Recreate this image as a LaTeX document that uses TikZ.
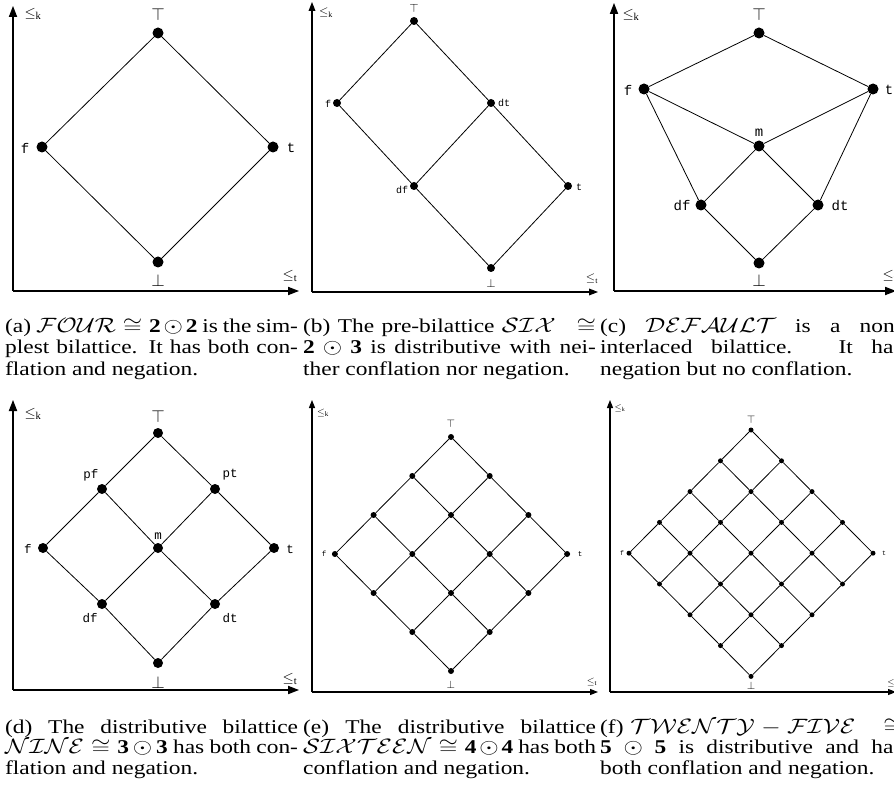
\documentclass[tikz,border=0pt]{standalone}
\usepackage{amsmath,amssymb}
\usepackage{graphicx}
\usepackage{fontspec}
\setmainfont{Liberation Serif}
\setmonofont{Liberation Mono}
\usetikzlibrary{arrows.meta}
% caption lines: justified to the column, or left as they are
\newcommand{\capl}[2][244pt]{\scalebox{1.2}[1]{\makebox[#1][s]{#2}}}
\newcommand{\capr}[1]{\scalebox{1.2}[1]{#1}}

\begin{document}
\begin{tikzpicture}[x=1pt,y=-1pt,
  vtx/.style={circle,fill,inner sep=0pt,minimum size=#1},
  lat/.style={line width=0.8pt},
  axis/.style={-{Triangle[length=#1,width=0.75*#1]},line width=1.1pt},
  tlab/.style={inner sep=0pt,font=\fontsize{#1}{#1}\selectfont\ttfamily},
  mlab/.style={inner sep=0pt,font=\fontsize{#1}{#1}\selectfont},
  captxt/.style={anchor=base west,inner sep=0pt,font=\fontsize{19.5}{21}\selectfont}]
  \useasboundingbox (0,0) rectangle (894,799);
  \clip (0,0) rectangle (894,799);

  % (a) FOUR
  \coordinate (a-o) at (13,291);
  \coordinate (a-y) at (13,6);
  \coordinate (a-x) at (299,291);
  \draw[axis=11pt] (a-o) -- (a-y);
  \draw[axis=11pt] (a-o) -- (a-x);
  \node[mlab=15] (a-k) at (33,14) {$\leq_{\mathrm{k}}$};
  \node[mlab=15] (a-t) at (290,276) {$\leq_{\mathrm{t}}$};
  \node[vtx=11pt] (a-top) at (158,33) {};
  \node[vtx=11pt] (a-f) at (42,147) {};
  \node[vtx=11pt] (a-tr) at (273,147) {};
  \node[vtx=11pt] (a-bot) at (158,262) {};
  \draw[lat] (a-top) -- (a-f) -- (a-bot) -- (a-tr) -- (a-top);
  \node[mlab=16] (a-toptxt) at (158,15) {$\top$};
  \node[mlab=16] (a-bottxt) at (158,281) {$\bot$};
  \node[tlab=14] (a-ftxt) at (25,148) {f};
  \node[tlab=14] (a-ttxt) at (291,148) {t};

  % (b) SIX
  \coordinate (b-o) at (312,292);
  \coordinate (b-y) at (312,2);
  \coordinate (b-x) at (598,292);
  \draw[axis=9pt] (b-o) -- (b-y);
  \draw[axis=9pt] (b-o) -- (b-x);
  \node[mlab=12] (b-k) at (326,13) {$\leq_{\mathrm{k}}$};
  \node[mlab=12] (b-t) at (592,279) {$\leq_{\mathrm{t}}$};
  \node[vtx=8pt] (b-top) at (414,21) {};
  \node[vtx=8pt] (b-f) at (337,103) {};
  \node[vtx=8pt] (b-dt) at (491,103) {};
  \node[vtx=8pt] (b-df) at (414,186) {};
  \node[vtx=8pt] (b-tr) at (568,186) {};
  \node[vtx=8pt] (b-bot) at (491,268) {};
  \draw[lat] (b-top) -- (b-f) -- (b-df) -- (b-bot) -- (b-tr) -- (b-dt) -- (b-top);
  \draw[lat] (b-dt) -- (b-df);
  \node[mlab=13] (b-toptxt) at (414,8) {$\top$};
  \node[mlab=13] (b-bottxt) at (491,283) {$\bot$};
  \node[tlab=10] (b-ftxt) at (328,104) {f};
  \node[tlab=10] (b-dttxt) at (504,103) {dt};
  \node[tlab=10] (b-dftxt) at (402,190) {df};
  \node[tlab=10] (b-ttxt) at (579,187) {t};

  % (c) DEFAULT
  \coordinate (c-o) at (614,291);
  \coordinate (c-y) at (614,3);
  \coordinate (c-x) at (896,291);
  \draw[axis=11pt] (c-o) -- (c-y);
  \draw[axis=11pt] (c-o) -- (c-x);
  \node[mlab=15] (c-k) at (631,15) {$\leq_{\mathrm{k}}$};
  \node[mlab=15] (c-t) at (890,276) {$\leq_{\mathrm{t}}$};
  \node[vtx=11pt] (c-top) at (759,33) {};
  \node[vtx=11pt] (c-f) at (644,89) {};
  \node[vtx=11pt] (c-tr) at (873,89) {};
  \node[vtx=11pt] (c-m) at (759,146) {};
  \node[vtx=11pt] (c-df) at (701,205) {};
  \node[vtx=11pt] (c-dt) at (818,205) {};
  \node[vtx=11pt] (c-bot) at (759,263) {};
  \draw[lat] (c-f) -- (c-top) -- (c-tr);
  \draw[lat] (c-f) -- (c-m) -- (c-tr);
  \draw[lat] (c-f) -- (c-df) -- (c-bot) -- (c-dt) -- (c-tr);
  \draw[lat] (c-df) -- (c-m) -- (c-dt);
  \node[mlab=16] (c-toptxt) at (759,15) {$\top$};
  \node[mlab=16] (c-bottxt) at (759,281) {$\bot$};
  \node[tlab=14] (c-ftxt) at (628,90) {f};
  \node[tlab=14] (c-ttxt) at (889,90) {t};
  \node[tlab=14] (c-mtxt) at (759,133) {m};
  \node[tlab=14] (c-dftxt) at (682,206) {df};
  \node[tlab=14] (c-dttxt) at (840,206) {dt};

  % (d) NINE
  \coordinate (d-o) at (13,690);
  \coordinate (d-y) at (13,400);
  \coordinate (d-x) at (299,690);
  \draw[axis=11pt] (d-o) -- (d-y);
  \draw[axis=11pt] (d-o) -- (d-x);
  \node[mlab=15] (d-k) at (33,414) {$\leq_{\mathrm{k}}$};
  \node[mlab=15] (d-t) at (290,679) {$\leq_{\mathrm{t}}$};
  \node[vtx=10pt] (d-top) at (158,433) {};
  \node[vtx=10pt] (d-pf) at (102,489) {};
  \node[vtx=10pt] (d-pt) at (215,489) {};
  \node[vtx=10pt] (d-f) at (43,548) {};
  \node[vtx=10pt] (d-m) at (158,548) {};
  \node[vtx=10pt] (d-tr) at (274,548) {};
  \node[vtx=10pt] (d-df) at (102,604) {};
  \node[vtx=10pt] (d-dt) at (215,604) {};
  \node[vtx=10pt] (d-bot) at (158,663) {};
  \draw[lat] (d-top) -- (d-pf) -- (d-f) -- (d-df) -- (d-bot) -- (d-dt) -- (d-tr) -- (d-pt) -- (d-top);
  \draw[lat] (d-pf) -- (d-m) -- (d-dt);
  \draw[lat] (d-pt) -- (d-m) -- (d-df);
  \node[mlab=16] (d-toptxt) at (158,416) {$\top$};
  \node[mlab=16] (d-bottxt) at (158,682) {$\bot$};
  \node[tlab=12.5] (d-pftxt) at (91,475) {pf};
  \node[tlab=12.5] (d-pttxt) at (230,475) {pt};
  \node[tlab=12.5] (d-ftxt) at (28,549) {f};
  \node[tlab=12.5] (d-mtxt) at (158,536) {m};
  \node[tlab=12.5] (d-ttxt) at (290,549) {t};
  \node[tlab=12.5] (d-dftxt) at (90,618) {df};
  \node[tlab=12.5] (d-dttxt) at (230,618) {dt};

  % (e) SIXTEEN
  \coordinate (e-o) at (312,692);
  \coordinate (e-y) at (312,400);
  \coordinate (e-x) at (598,692);
  \draw[axis=8pt] (e-o) -- (e-y);
  \draw[axis=8pt] (e-o) -- (e-x);
  \node[mlab=10] (e-k) at (323,413) {$\leq_{\mathrm{k}}$};
  \node[mlab=10] (e-t) at (592,682) {$\leq_{\mathrm{t}}$};
  \foreach \i in {0,...,3}
    \foreach \j in {0,...,3}
      \node[vtx=6pt] (e-\i-\j) at ({451+38.7*(\j-\i)},{437+39*(\i+\j)}) {};
  \foreach \i in {0,...,3}
    \foreach \j [count=\k] in {0,...,2} {
      \draw[lat] (e-\i-\j) -- (e-\i-\k);
      \draw[lat] (e-\j-\i) -- (e-\k-\i);
    }
  \node[mlab=11] (e-toptxt) at (451,424) {$\top$};
  \node[mlab=11] (e-bottxt) at (451,685) {$\bot$};
  \node[tlab=7.5] (e-ftxt) at (324,554) {f};
  \node[tlab=7.5] (e-ttxt) at (580,554) {t};

  % (f) TWENTY-FIVE
  \coordinate (f-o) at (610,692);
  \coordinate (f-y) at (610,400);
  \coordinate (f-x) at (896,692);
  \draw[axis=8pt] (f-o) -- (f-y);
  \draw[axis=8pt] (f-o) -- (f-x);
  \node[mlab=9] (f-k) at (620,408) {$\leq_{\mathrm{k}}$};
  \node[mlab=9] (f-t) at (892,683) {$\leq_{\mathrm{t}}$};
  \foreach \i in {0,...,4}
    \foreach \j in {0,...,4}
      \node[vtx=5pt] (f-\i-\j) at ({751+30.5*(\j-\i)},{430+30.8*(\i+\j)}) {};
  \foreach \i in {0,...,4}
    \foreach \j [count=\k] in {0,...,3} {
      \draw[lat] (f-\i-\j) -- (f-\i-\k);
      \draw[lat] (f-\j-\i) -- (f-\k-\i);
    }
  \node[mlab=11] (f-toptxt) at (751,420) {$\top$};
  \node[mlab=11] (f-bottxt) at (751,686) {$\bot$};
  \node[tlab=6.5] (f-ftxt) at (622,553) {f};
  \node[tlab=6.5] (f-ttxt) at (884,553) {t};

  % captions, row 1
  \node[captxt] (cap-a1) at (5,333) {\capl{(a) $\mathcal{FOUR}\cong\mathbf{2}\odot\mathbf{2}$ is the sim-}};
  \node[captxt] (cap-a2) at (5,354) {\capl{plest bilattice. It has both con-}};
  \node[captxt] (cap-a3) at (5,375) {\capr{flation and negation.}};
  \node[captxt] (cap-b1) at (303,333) {\capl{(b) The pre-bilattice $\mathcal{SIX}\;\cong$}};
  \node[captxt] (cap-b2) at (303,354) {\capl{$\mathbf{2}\odot\mathbf{3}$ is distributive with nei-}};
  \node[captxt] (cap-b3) at (303,375) {\capr{ther conflation nor negation.}};
  \node[captxt] (cap-c1) at (600,333) {\capl[252pt]{(c) $\mathcal{DEFAULT}$ is a non-}};
  \node[captxt] (cap-c2) at (600,354) {\capl[252pt]{interlaced bilattice. It has}};
  \node[captxt] (cap-c3) at (600,375) {\capr{negation but no conflation.}};
  % captions, row 2
  \node[captxt] (cap-d1) at (5,733) {\capl{(d) The distributive bilattice}};
  \node[captxt] (cap-d2) at (5,753.5) {\capl{$\mathcal{NINE}\cong\mathbf{3}\odot\mathbf{3}$ has both con-}};
  \node[captxt] (cap-d3) at (5,774) {\capr{flation and negation.}};
  \node[captxt] (cap-e1) at (303,733) {\capl{(e) The distributive bilattice}};
  \node[captxt] (cap-e2) at (303,753.5) {\capl{$\mathcal{SIXTEEN}\cong\mathbf{4}\odot\mathbf{4}$ has both}};
  \node[captxt] (cap-e3) at (303,774) {\capr{conflation and negation.}};
  \node[captxt] (cap-f1) at (600,733) {\capl[252pt]{(f) $\mathcal{TWENTY}-\mathcal{FIVE}\;\;\cong$}};
  \node[captxt] (cap-f2) at (600,753.5) {\capl[252pt]{$\mathbf{5}\odot\mathbf{5}$ is distributive and has}};
  \node[captxt] (cap-f3) at (600,774) {\capr{both conflation and negation.}};
\end{tikzpicture}
\end{document}
